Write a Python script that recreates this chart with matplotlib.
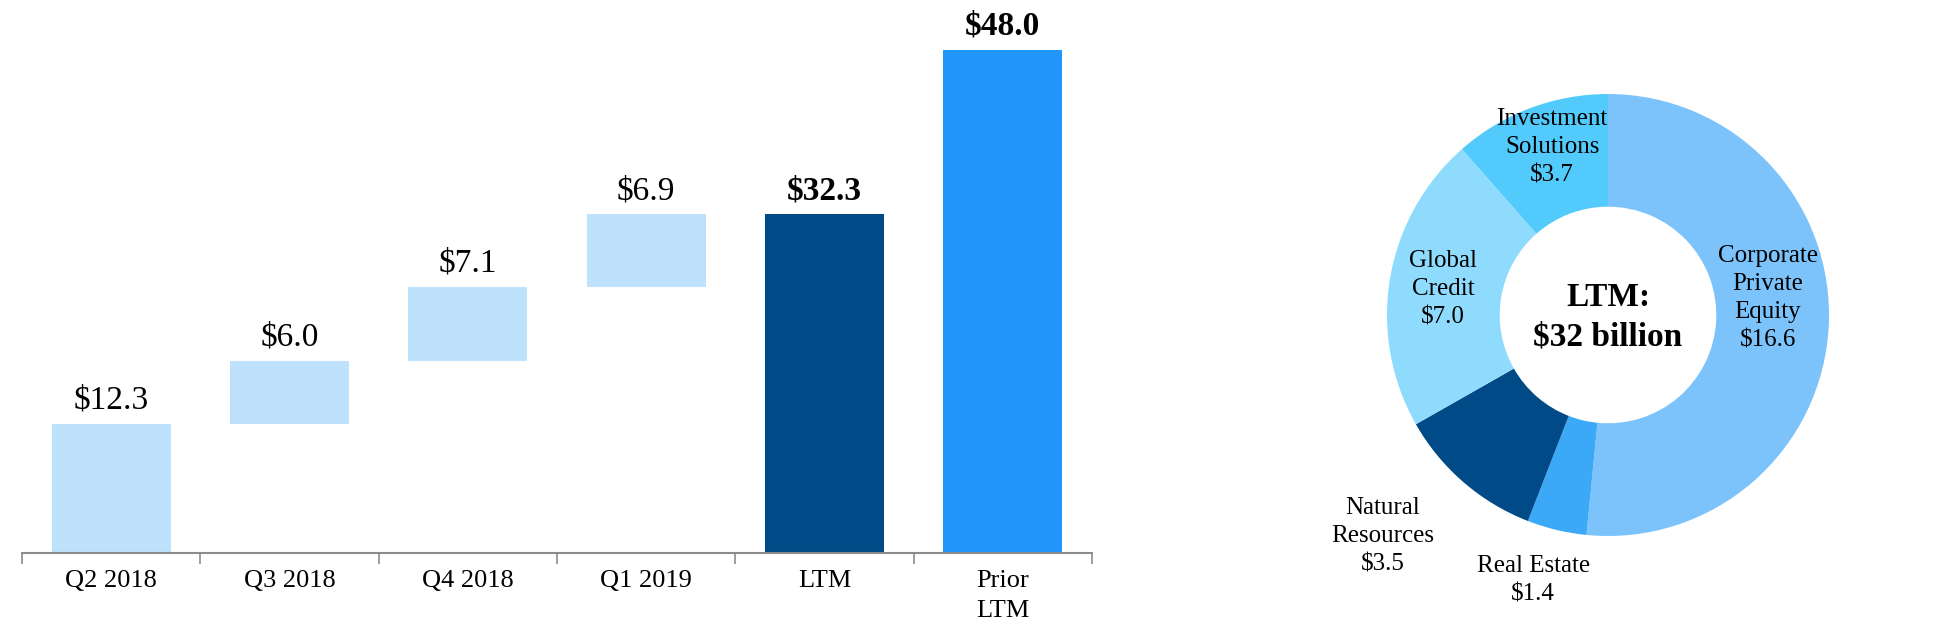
import numpy as np
import matplotlib
matplotlib.use("Agg")
import matplotlib.pyplot as plt

plt.rcParams['font.family'] = ['Liberation Serif', 'DejaVu Serif']

# waterfall data
categorias = ['Q2 2018', 'Q3 2018', 'Q4 2018', 'Q1 2019', 'LTM', 'Prior\nLTM']
trimestres = [12.3, 6.0, 7.1, 6.9]
ltm = 32.3
prior_ltm = 48.0

# donut data
segmentos = ['Corporate\nPrivate\nEquity', 'Real Estate', 'Natural\nResources',
             'Global\nCredit', 'Investment\nSolutions']
valores_seg = [16.6, 1.4, 3.5, 7.0, 3.7]
cores_seg = ['#7DC3FB', '#3BA8F8', '#004B87', '#8FDBFD', '#52CBFC']
texto_centro = 'LTM:\n$32 billion'

cor_trimestre = '#BEE2FC'
cor_ltm = '#004B87'
cor_prior = '#2196FA'

fig = plt.figure(figsize=(19.5, 6.34), dpi=100)

# ---- bar chart ----
ax = fig.add_axes([22 / 1950, 1 - 553 / 634, 1070 / 1950, 545 / 634])
x = np.arange(len(categorias))
bases = np.concatenate([[0], np.cumsum(trimestres)[:-1]])
largura = 0.667

ax.bar(x[:4], trimestres, bottom=bases, width=largura, color=cor_trimestre)
ax.bar(x[4], ltm, width=largura, color=cor_ltm)
ax.bar(x[5], prior_ltm, width=largura, color=cor_prior)

topos = list(bases + np.array(trimestres)) + [ltm, prior_ltm]
rotulos = [f'${v:.1f}' for v in trimestres] + [f'${ltm:.1f}', f'${prior_ltm:.1f}']
for i, (t, r) in enumerate(zip(topos, rotulos)):
    negrito = 'bold' if i >= 4 else 'normal'
    ax.annotate(r, (x[i], t), xytext=(0, 6), textcoords='offset points',
                ha='center', va='bottom', fontsize=24, fontweight=negrito)

ax.set_xlim(-0.5, 5.5)
ax.set_ylim(0, 52)
for lado in ['top', 'right', 'left']:
    ax.spines[lado].set_visible(False)
ax.spines['bottom'].set_color('#8C8C8C')
ax.spines['bottom'].set_linewidth(1.5)
ax.set_yticks([])
ax.set_xticks(x)
ax.set_xticklabels(categorias, fontsize=19, linespacing=1.5, va='top')
ax.tick_params(axis='x', which='major', length=0, pad=12)
ax.set_xticks(np.arange(-0.5, 6, 1), minor=True)
ax.tick_params(axis='x', which='minor', length=8, width=1.2, color='#8C8C8C')

# ---- donut ----
cx, cy, raio = 1608, 315, 221
ax2 = fig.add_axes([(cx - raio) / 1950, 1 - (cy + raio) / 634, 2 * raio / 1950, 2 * raio / 634])
ax2.pie(valores_seg, colors=cores_seg, startangle=90, counterclock=False,
        radius=1, wedgeprops=dict(width=0.51, linewidth=0))
ax2.set_xlim(-1, 1)
ax2.set_ylim(-1, 1)
ax2.set_aspect('equal')
ax2.axis('off')

pos_rotulos = [(0.724, 0.077), (-0.339, -1.199), (-1.018, -1.0),
               (-0.747, 0.118), (-0.253, 0.760)]
for nome, v, (px, py) in zip(segmentos, valores_seg, pos_rotulos):
    ax2.text(px, py, f'{nome}\n${v:.1f}', ha='center', va='center',
             fontsize=18, linespacing=1.36)
ax2.text(0, -0.01, texto_centro, ha='center', va='center', fontsize=24,
         fontweight='bold', linespacing=1.35)

fig.savefig('out.png', dpi=100)
